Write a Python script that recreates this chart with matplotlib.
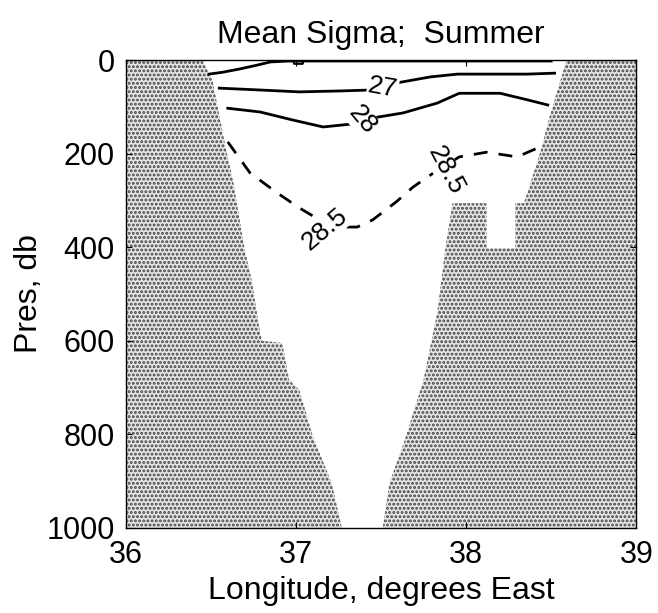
import matplotlib
matplotlib.use("Agg")
from matplotlib import pyplot as plt

plt.rcParams["font.family"] = ["Liberation Sans", "DejaVu Sans"]
plt.rcParams["hatch.linewidth"] = 1.4

# bottom depth (db) along the section, west and east flanks
west_lon = [36.0, 36.45, 36.51, 36.59, 36.63, 36.70, 36.74, 36.79, 36.80, 36.92, 36.96, 37.02, 37.10, 37.21, 37.27]
west_bot = [0, 0, 43, 192, 256, 406, 470, 583, 600, 605, 684, 705, 805, 904, 1000]
east_lon = [37.51, 37.55, 37.64, 37.75, 37.83, 37.88, 37.92, 38.12, 38.12, 38.29, 38.29, 38.34, 38.44, 38.49, 38.59, 39.0]
east_bot = [1000, 904, 812, 684, 541, 399, 306, 306, 402, 402, 306, 306, 192, 122, 0, 0]

# sigma contours
c_top_lon = [36.49, 36.57, 36.67, 36.77, 36.85, 36.96, 37.3, 37.7, 38.1, 38.5]
c_top_p = [30, 26, 19, 11, 4, 2, 2, 2, 2, 2]
c_blob_lon = [36.985, 36.99, 37.04, 37.045]
c_blob_p = [0, 8, 8, 0]
c27_lon = [36.55, 36.79, 37.02, 37.26, 37.44, 37.59, 37.79, 37.95, 38.20, 38.36, 38.52]
c27_p = [60, 64, 68, 66, 64, 49, 36, 30, 30, 30, 28]
c28_lon = [36.60, 36.79, 36.98, 37.16, 37.32, 37.48, 37.63, 37.83, 37.96, 38.20, 38.36, 38.48]
c28_p = [103, 111, 128, 143, 137, 122, 113, 92, 71, 71, 85, 96]
c285_lon = [36.60, 36.73, 36.89, 37.02, 37.14, 37.27, 37.36, 37.45, 37.59, 37.69, 37.81, 37.96, 38.12, 38.30, 38.42]
c285_p = [175, 241, 284, 316, 342, 357, 357, 342, 303, 271, 241, 207, 197, 207, 188]

labels = ["27", "28", "28.5", "28.5"]
label_lon = [37.51, 37.39, 37.17, 37.88]
label_p = [60, 128, 362, 235]
label_rot = [-10, -50, 40, -62]

fig = plt.figure(figsize=(6.58, 6.13), dpi=100)
ax = fig.add_axes([0.191, 0.139, 0.776, 0.763])

for lon, bot in [(west_lon, west_bot), (east_lon, east_bot)]:
    ax.fill_between(lon, bot, 1000, facecolor="#e4e4e4", edgecolor="#444444",
                    hatch="....", linewidth=0)

ax.plot(c_top_lon, c_top_p, color="black", lw=2)
ax.plot(c_blob_lon, c_blob_p, color="black", lw=1.5)
ax.plot(c27_lon, c27_p, color="black", lw=2)
ax.plot(c28_lon, c28_p, color="black", lw=2)
ax.plot(c285_lon, c285_p, color="black", lw=2, dashes=(5, 4))

for s, x, y, r in zip(labels, label_lon, label_p, label_rot):
    ax.text(x, y, s, fontsize=19, rotation=r, ha="center", va="center",
            bbox=dict(facecolor="white", edgecolor="none", pad=0.5))

ax.set_xlim(36, 39)
ax.set_ylim(1000, 0)
ax.set_xticks([36, 37, 38, 39])
ax.set_yticks([0, 200, 400, 600, 800, 1000])
ax.tick_params(direction="in", top=True, right=True, length=4, labelsize=22)
ax.tick_params(axis="x", pad=9)
ax.tick_params(axis="y", pad=8)
ax.set_xlabel("Longitude, degrees East", fontsize=23, labelpad=4)
ax.set_ylabel("Pres, db", fontsize=23)
ax.yaxis.set_label_coords(-0.16, 0.5)
ax.set_title("Mean Sigma;  Summer", fontsize=23, pad=12)
for sp in ax.spines.values():
    sp.set_linewidth(1.0)

plt.savefig("out.png", dpi=100)
